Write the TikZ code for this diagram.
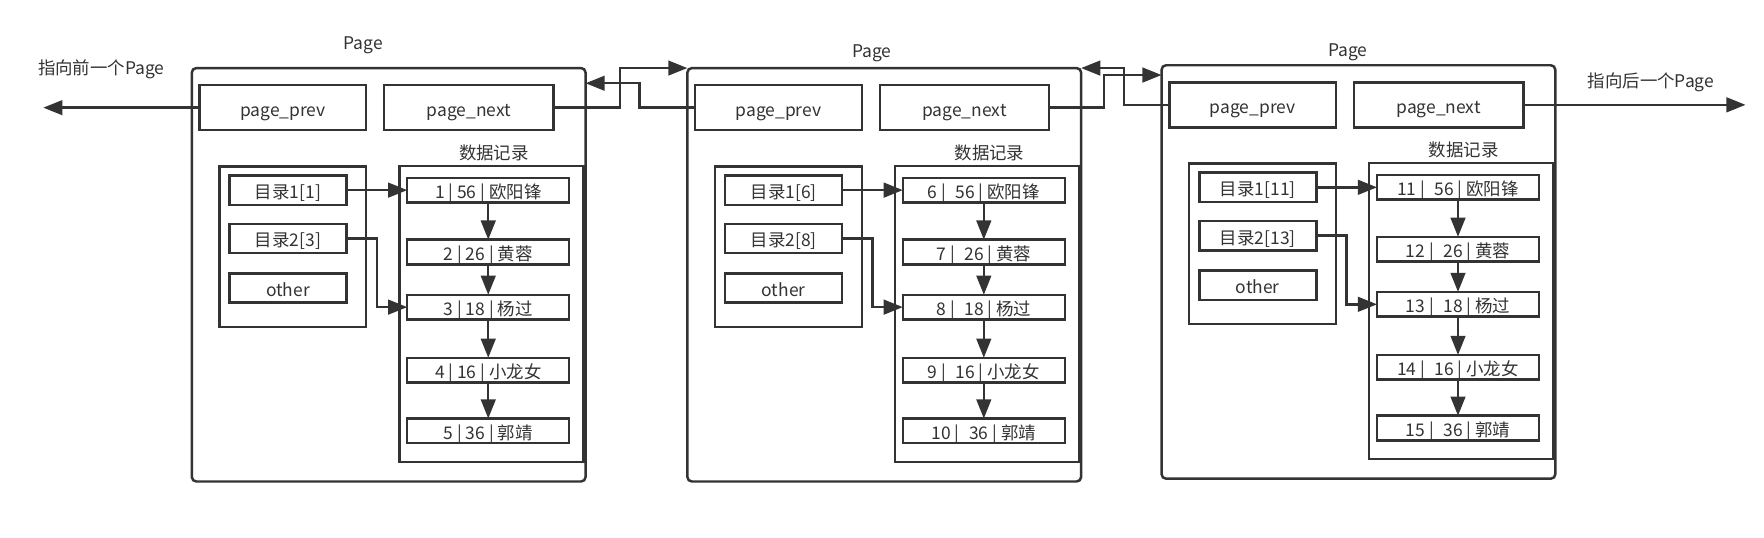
\documentclass[tikz,border=0pt]{standalone}
\usepackage{fontspec}
\newfontfamily\cjk{Noto Sans CJK SC}
\usetikzlibrary{arrows.meta}
\tikzset{
	box/.style={draw=black!80, line width=2.2pt, inner sep=0pt, outer sep=0pt, minimum height=40pt, text height=15pt, text depth=0pt},
	pagebox/.style={box, rounded corners=4pt},
	link/.style={draw=black!80, line width=2.2pt, -{Triangle[length=17pt,width=13pt]}},
	every node/.style={font=\cjk\fontsize{15.5}{18}\selectfont, text=black!80}
}
\def\drawpage[#1](#2,#3)(#4:#5:#6:#7){
	\begin{scope}[shift={(#2,#3)}]
		\node[pagebox, minimum width=350pt, minimum height=367.5pt] (#1page) at (345.5,244.25) {};
		\node[box, minimum width=148pt] (#1prev) at (251.5,95.7) {page\_prev};
		\node[box, minimum width=150.5pt] (#1next) at (416.75,95.7) {page\_next};
		\node (#1head) at (439,136) {数据记录};
		
		\node[box, minimum width=130.5pt, minimum height=142.5pt] (#1dirs) at (260.25,219.25) {};
		\node[box, minimum width=104pt, minimum height=26pt] (#1d1) at (256,169) {#4};
		\node[box, minimum width=104pt, minimum height=26pt] (#1d2) at (256,212) {#5};
		\node[box, minimum width=104pt, minimum height=26pt] (#1d3) at (256,256) {other};
		
		\node[box, minimum width=163.5pt, minimum height=263pt] (#1data) at (436.75,279) {};
		\foreach \i/\y/\age/\who in {0/169/56/欧阳锋, 1/224/26/黄蓉, 2/273/18/杨过, 3/329/16/小龙女, 4/383/36/郭靖}{
			\pgfmathtruncatemacro\num{#6+\i}
			\node[box, minimum width=144pt, minimum height=22pt] (#1r\i) at (434,\y) {\num{} |\hspace{#7} \age{} | \who};
		}
		\foreach \i/\j in {0/1,1/2,2/3,3/4} \draw[link] (#1r\i) -- (#1r\j);
		\draw[link] (#1d1.east) -- (#1r0.west);
		\draw[link] (#1d2.east) -- ++(27,0) |- (#1r2.west);
	\end{scope}
}

\begin{document}
\begin{tikzpicture}[x=1pt, y=-1pt]
	%%%%% START %%%%%
	
	\fill[white] (0,0) rectangle (1568,478.2);
	\useasboundingbox (0,0) rectangle (1568,478.2);
	
	\drawpage[p1](0,0)(目录1[1]:目录2[3]:1:0pt)
	\drawpage[p2](440.5,0)(目录1[6]:目录2[8]:6:5pt)
	\drawpage[p3](862,-2.5)(目录1[11]:目录2[13]:11:5pt)
	
	\node (p1title) at (323,40) {Page};
	\node (p2title) at (775,47.4) {Page};
	\node (p3title) at (1198,46.8) {Page};
	
	\node (prevtxt) at (90,62) {指向前一个Page};
	\node (nexttxt) at (1467.5,73.5) {指向后一个Page};
	\coordinate (lend) at (38.5,95.7);
	\coordinate (rend) at (1551.6,93.2);
	\coordinate (p1in) at (520.5,74);
	\coordinate (p3in) at (1032.5,66.7);
	
	\draw[link] (p1prev.west) -- (lend);
	\draw[link] (p1next.east) -- ++(59,0) |- (p2page.north west);
	\draw[link] (p2prev.west) -- ++(-49.5,0) |- (p1in);
	\draw[link] (p2next.east) -- ++(49,0) |- (p3in);
	\draw[link] (p3prev.west) -- ++(-40.5,0) |- (p2page.north east);
	\draw[link] (p3next.east) -- (rend);
	
	%%%%% END %%%%%
\end{tikzpicture}
\end{document}
